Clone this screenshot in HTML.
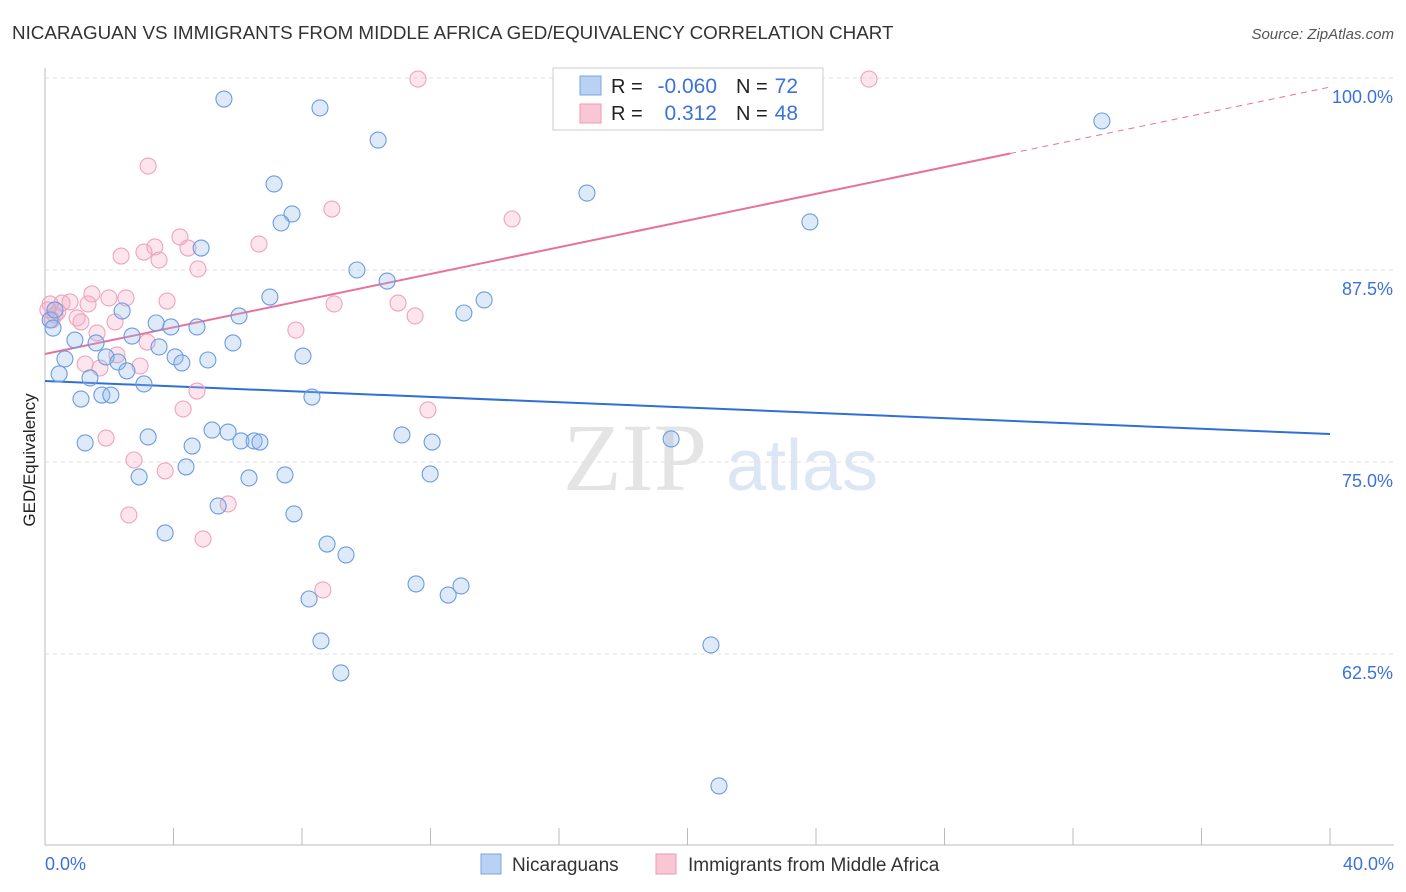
<!DOCTYPE html>
<html><head><meta charset="utf-8"><style>
body{margin:0;background:#fff;font-family:"Liberation Sans",sans-serif;}
svg{display:block}
</style></head><body>
<svg id="chart" width="1406" height="892" xmlns="http://www.w3.org/2000/svg">
<text x="12" y="39" font-size="18.8" fill="#333">NICARAGUAN VS IMMIGRANTS FROM MIDDLE AFRICA GED/EQUIVALENCY CORRELATION CHART</text>
<text x="1394" y="39" font-size="15" fill="#555" font-style="italic" text-anchor="end">Source: ZipAtlas.com</text>
<text x="35" y="460" font-size="17" fill="#222" text-anchor="middle" transform="rotate(-90 35 460)">GED/Equivalency</text>
<g><text x="635" y="490" font-size="96" fill="#e4e4e4" font-family="Liberation Serif,serif" text-anchor="middle">ZIP</text><text x="802" y="490" font-size="72" fill="#dce6f4" text-anchor="middle">atlas</text></g>
<g id="grid"></g><g id="axes"></g><g id="trends"></g><g id="pts"></g>
<g>
<rect x="553" y="68" width="270" height="62" fill="#fff" stroke="#ccc"/>
<rect x="580" y="76" width="21" height="19" fill="#b9d1f2" stroke="#7aa5e0"/>
<rect x="580" y="104" width="21" height="19" fill="#f9c6d5" stroke="#ee9ab4"/>
<text x="611" y="93" font-size="20" fill="#222">R =</text><text x="717" y="93" font-size="21" fill="#3b72d9" text-anchor="end">-0.060</text>
<text x="736" y="93" font-size="20" fill="#222">N =</text><text x="798" y="93" font-size="21" fill="#3b72d9" text-anchor="end">72</text>
<text x="611" y="120" font-size="20" fill="#222">R =</text><text x="717" y="120" font-size="21" fill="#3b72d9" text-anchor="end">0.312</text>
<text x="736" y="120" font-size="20" fill="#222">N =</text><text x="798" y="120" font-size="21" fill="#3b72d9" text-anchor="end">48</text>
</g>
<g>
<rect x="481" y="854" width="20" height="20" fill="#b9d1f2" stroke="#7aa5e0"/>
<text x="512" y="871" font-size="19" fill="#333">Nicaraguans</text>
<rect x="656" y="854" width="20" height="20" fill="#f9c6d5" stroke="#ee9ab4"/>
<text x="688" y="871" font-size="19" fill="#333">Immigrants from Middle Africa</text>
</g>
</svg>
<script>
const yTicks=[62.5,75,87.5,100];
const yTickLabels=["62.5%","75.0%","87.5%","100.0%"];
const xTickCount=10;
const xLabels=["0.0%","40.0%"];
const blueX=[5.57,8.56,10.37,7.13,16.87,7.69,7.35,23.81,32.90,4.86,9.71,10.65,7.00,13.67,13.04,2.40,6.04,3.46,3.92,4.73,2.71,0.93,5.85,1.59,3.55,1.90,0.62,2.27,4.05,4.26,5.07,8.03,0.44,2.55,1.40,3.08,1.12,1.77,2.05,8.31,3.21,1.25,5.20,5.70,4.58,6.10,6.51,6.69,11.11,12.05,19.49,4.39,2.93,6.35,7.47,11.99,5.39,7.75,3.74,8.78,9.37,11.55,12.95,12.55,8.22,8.59,20.73,9.21,20.98,0.16,0.25,0.31];
const blueY=[98.63,98.05,95.96,93.10,92.51,91.15,90.56,90.63,97.20,88.93,87.50,86.78,85.74,85.55,84.70,84.83,84.51,84.05,83.79,83.79,83.20,82.94,82.75,82.75,82.49,81.84,81.71,81.51,81.84,81.45,81.64,81.90,80.73,80.93,80.47,80.08,79.10,79.36,79.36,79.23,76.63,76.24,77.08,76.95,76.04,76.37,76.37,76.30,76.76,76.30,76.50,74.68,74.03,73.96,74.16,74.22,72.14,71.62,70.38,69.66,68.95,67.06,66.93,66.34,66.08,63.35,63.09,61.27,53.91,84.25,83.72,84.90];
const pinkX=[11.61,25.65,3.21,8.93,14.54,4.20,6.66,3.42,3.08,4.45,2.37,3.55,4.76,1.46,1.99,2.52,3.80,0.53,0.78,1.34,9.00,10.99,0.16,0.40,1.00,1.12,2.18,11.52,7.81,1.62,3.18,2.24,1.25,2.96,1.71,4.73,4.30,11.92,1.90,2.77,3.74,5.70,2.61,4.92,8.65,0.31,0.09,0.22];
const pinkY=[99.93,99.93,94.27,91.47,90.82,89.65,89.19,89.00,88.67,88.93,88.41,88.15,87.57,85.94,85.68,85.68,85.48,85.35,85.42,85.29,85.29,85.35,85.29,84.77,84.38,84.12,84.12,84.51,83.59,83.40,82.81,81.97,81.38,81.25,81.12,79.62,78.45,78.39,76.56,75.13,74.42,72.27,71.55,69.99,66.67,84.57,84.90,84.25];
const blueTrend=[80.27,76.82];
const pinkTrend=[82.03,99.41];
const pinkSolidEnd=30.04;

const X0=45,X1=1330,Y100=78,PX=192/12.5,YB=845;
const sx=v=>X0+(v/40)*(X1-X0);
const sy=v=>Y100+(100-v)*PX;
const NS="http://www.w3.org/2000/svg";
function mk(tag,attrs,parent){const e=document.createElementNS(NS,tag);for(const k in attrs)e.setAttribute(k,attrs[k]);parent.appendChild(e);return e;}
const grid=document.getElementById('grid'),axes=document.getElementById('axes'),trends=document.getElementById('trends'),pts=document.getElementById('pts');
yTicks.forEach((t,i)=>{
 const l=mk('line',{x1:X0,x2:1394,y1:sy(t),y2:sy(t),stroke:'#e2e2e2','stroke-dasharray':'4 4'},grid);
 
 
 const tx=mk('text',{x:1393,y:sy(t)+25,'font-size':18,fill:'#3b72d9','text-anchor':'end'},axes);
 tx.textContent=yTickLabels[i];
 
 
});
const ya=mk('line',{x1:X0,x2:X0,y1:68,y2:YB,stroke:'#bbb'},axes);


const xa=mk('line',{x1:X0,x2:1394,y1:YB,y2:YB,stroke:'#bbb'},axes);


for(let i=0;i<=xTickCount;i++){const x=sx(i*40/xTickCount);
 const t=mk('line',{x1:x,x2:x,y1:828,y2:YB,stroke:'#bbb'},axes);
 
 }
const xl0=mk('text',{x:45,y:870,'font-size':18,fill:'#3b72d9'},axes);xl0.textContent=xLabels[0];


const xl1=mk('text',{x:1394,y:870,'font-size':18,fill:'#3b72d9','text-anchor':'end'},axes);xl1.textContent=xLabels[1];


function dots(xs,ys,fill,stroke,name){xs.forEach((v,i)=>{
 const c=mk('circle',{cx:sx(v),cy:sy(ys[i]),r:8,fill:fill,stroke:stroke,'stroke-width':1.1},pts);
 
 });}
dots(pinkX,pinkY,'rgba(246,170,195,0.3)','#f0a3bb','point-immigrants');
dots(blueX,blueY,'rgba(150,185,235,0.3)','#6a9be3','point-nicaraguans');
const bt=mk('line',{x1:sx(0),y1:sy(blueTrend[0]),x2:sx(40),y2:sy(blueTrend[1]),stroke:'#2f6fd6','stroke-width':2},trends);


const py=x=>pinkTrend[0]+(pinkTrend[1]-pinkTrend[0])*x/40;
const pt=mk('line',{x1:sx(0),y1:sy(py(0)),x2:sx(pinkSolidEnd),y2:sy(py(pinkSolidEnd)),stroke:'#e8719a','stroke-width':2},trends);


const pd=mk('line',{x1:sx(pinkSolidEnd),y1:sy(py(pinkSolidEnd)),x2:sx(40),y2:sy(py(40)),stroke:'#e8719a','stroke-width':1,'stroke-dasharray':'6 5'},trends);


</script>
</body></html>
